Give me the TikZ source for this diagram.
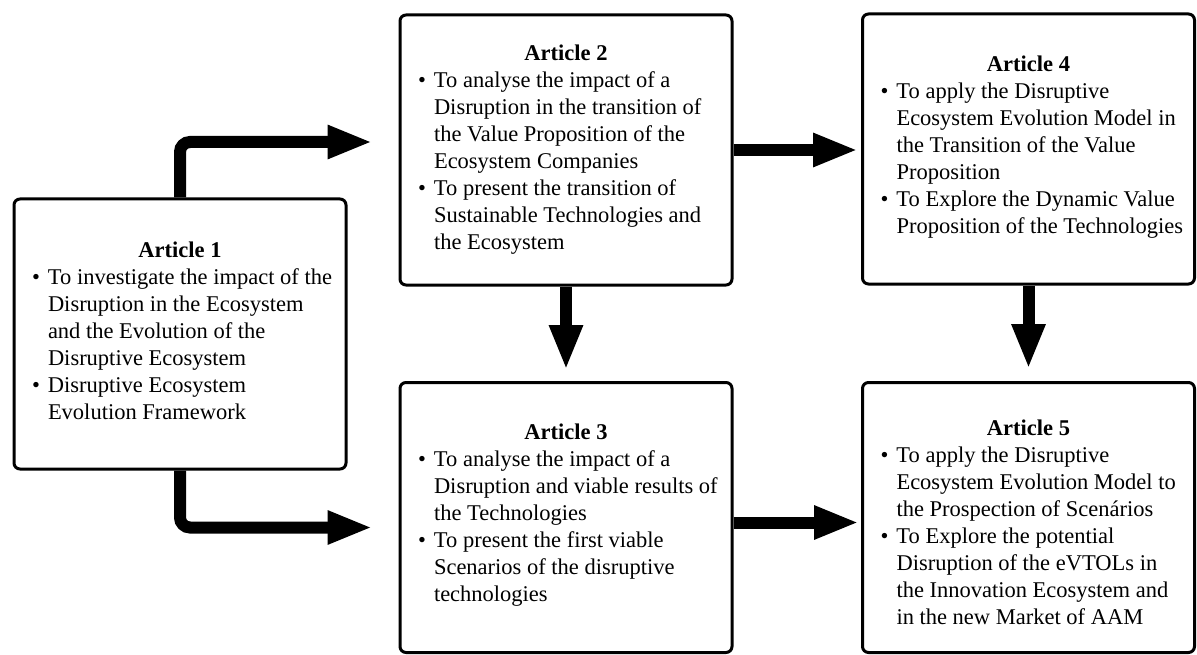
\documentclass[tikz,border=0pt]{standalone}
\usepackage{fontspec}
\setmainfont{Liberation Serif}
\usetikzlibrary{arrows.meta}

% bullet hung to the left of the item text
\newcommand{\artbul}{\leavevmode\llap{\textbullet\hspace{8pt}}}
% centred bold heading followed by the hanging bullet lines
\newcommand{\artbody}[2]{%
  \begin{minipage}{332pt}\fontsize{22.5pt}{27pt}\selectfont
    \centering\textbf{#1}\par
    \raggedright\leftskip=34pt\relax\rightskip=-40pt plus 1fil\relax
    #2
  \end{minipage}}

\tikzset{
  artbox/.style={draw, line width=3pt, rounded corners=6pt, fill=white,
    minimum width=332pt, minimum height=270pt, inner sep=0pt},
  arttext/.style={inner sep=0pt},
  flow/.style={line width=12pt, rounded corners=10pt,
    -{Triangle[length=45pt,width=31pt]}}
}

\begin{document}
\begin{tikzpicture}[x=1pt, y=-1pt]
  \useasboundingbox (0,0) rectangle (1197,655);

  % the five article boxes
  \node[artbox] (a1) at (180,334) {};
  \node[artbox] (a2) at (566,150) {};
  \node[artbox] (a3) at (566,517.5) {};
  \node[artbox] (a4) at (1028.5,149) {};
  \node[artbox] (a5) at (1028.5,517.5) {};

  % box contents
  \node[arttext] (t1) at ([yshift=3pt]a1.center) {\artbody{Article 1}{%
    \artbul To investigate the impact of the\\
    Disruption in the Ecosystem\\
    and the Evolution of the\\
    Disruptive Ecosystem\\
    \artbul Disruptive Ecosystem\\
    Evolution Framework}};

  \node[arttext] (t2) at (a2.center) {\artbody{Article 2}{%
    \artbul To analyse the impact of a\\
    Disruption in the transition of\\
    the Value Proposition of the\\
    Ecosystem Companies\\
    \artbul To present the transition of\\
    Sustainable Technologies and\\
    the Ecosystem}};

  \node[arttext] (t3) at ([yshift=2pt]a3.center) {\artbody{Article 3}{%
    \artbul To analyse the impact of a\\
    Disruption and viable results of\\
    the Technologies\\
    \artbul To present the first viable\\
    Scenarios of the disruptive\\
    technologies}};

  \node[arttext] (t4) at ([yshift=2pt]a4.center) {\artbody{Article 4}{%
    \artbul To apply the Disruptive\\
    Ecosystem Evolution Model in\\
    the Transition of the Value\\
    Proposition\\
    \artbul To Explore the Dynamic Value\\
    Proposition of the Technologies}};

  \node[arttext] (t5) at ([yshift=-5pt]a5.center) {\artbody{Article 5}{%
    \artbul To apply the Disruptive\\
    Ecosystem Evolution Model to\\
    the Prospection of Scenários\\
    \artbul To Explore the potential\\
    Disruption of the eVTOLs in\\
    the Innovation Ecosystem and\\
    in the new Market of AAM}};

  % connectors
  \draw[flow, shorten >=26pt] (a1.north) |- ([yshift=8pt]a2.west);
  \draw[flow, shorten >=26pt] (a1.south) |- ([yshift=-10pt]a3.west);
  \draw[flow, shorten >=3pt] (a2.east) -- (a4.west |- a2.east);
  \draw[flow, shorten >=11pt] (a2.south) -- (a3.north);
  \draw[flow, shorten >=12pt] (a4.south) -- (a5.north);
  \draw[flow, shorten >=2pt] ([yshift=-5pt]a3.east) -- ([yshift=-5pt]a5.west);
\end{tikzpicture}
\end{document}
